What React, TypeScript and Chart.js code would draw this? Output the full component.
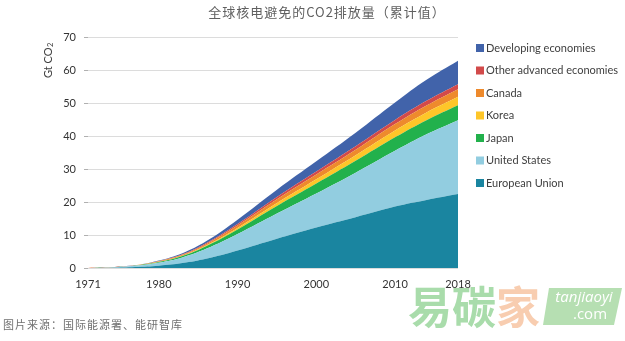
import React, { useEffect, useRef } from "react";
import { Chart, registerables } from "chart.js";

Chart.register(...registerables);

// ---- data ----
const years = [1971, 1974, 1977, 1980, 1983, 1986, 1990, 1995, 2000, 2005, 2010, 2014, 2018];
const euValues = [0, 0.05, 0.3, 0.7, 1.5, 2.8, 5.3, 8.9, 12.3, 15.4, 18.6, 20.6, 22.4];
const usValues = [0, 0.1, 0.35, 0.9, 1.7, 3.0, 5.0, 7.6, 10.3, 13.5, 16.9, 19.9, 22.4];
const japanValues = [0, 0.03, 0.1, 0.25, 0.45, 0.8, 1.4, 2.3, 3.0, 3.6, 4.1, 4.3, 4.5];
const koreaValues = [0, 0, 0, 0.02, 0.08, 0.2, 0.45, 0.9, 1.3, 1.7, 2.1, 2.35, 2.6];
const canadaValues = [0, 0.02, 0.05, 0.15, 0.25, 0.4, 0.7, 1.1, 1.4, 1.6, 1.9, 2.1, 2.3];
const otherValues = [0, 0.02, 0.04, 0.1, 0.17, 0.28, 0.5, 0.75, 0.95, 1.1, 1.25, 1.4, 1.5];
const developingValues = [0, 0.03, 0.06, 0.18, 0.35, 0.6, 1.3, 2.2, 3.1, 4.1, 5.3, 6.4, 7.1];

const seriesNames = [
  "European Union",
  "United States",
  "Japan",
  "Korea",
  "Canada",
  "Other advanced economies",
  "Developing economies",
];
const seriesValues = [euValues, usValues, japanValues, koreaValues, canadaValues, otherValues, developingValues];
const seriesColors = ["#1a85a0", "#92cde0", "#22b14c", "#fec629", "#ee8a2c", "#d24a4a", "#4163aa"];

const xTickYears = [1971, 1980, 1990, 2000, 2010, 2018];
const yMax = 70;
const yStep = 10;

const titleText = "全球核电避免的CO2排放量（累计值）";
const sourceText = "图片来源：国际能源署、能研智库";
const yAxisTitle = "Gt CO";
const yAxisSub = "2";

const decorPlugin = {
  id: "decor",
  beforeDraw(chart: any) {
    const ctx = chart.ctx as CanvasRenderingContext2D;
    ctx.save();
    ctx.fillStyle = "#ffffff";
    ctx.fillRect(0, 0, chart.width, chart.height);
    // watermark
    ctx.font = "bold 44px 'Noto Sans CJK SC'";
    ctx.textBaseline = "middle";
    ctx.textAlign = "left";
    ctx.fillStyle = "#a9dcab";
    ctx.fillText("易", 408, 307);
    ctx.fillText("碳", 452, 307);
    ctx.fillStyle = "#f8cdb0";
    ctx.fillText("家", 496, 307);
    ctx.fillStyle = "#b6dfb2";
    ctx.beginPath();
    ctx.moveTo(549, 288);
    ctx.lineTo(622, 288);
    ctx.lineTo(614, 325);
    ctx.lineTo(543, 325);
    ctx.closePath();
    ctx.fill();
    ctx.fillStyle = "#ffffff";
    ctx.font = "italic 15px 'Open Sans'";
    ctx.textAlign = "center";
    ctx.fillText("tanjiaoyi", 584, 298);
    ctx.font = "15px 'Open Sans'";
    ctx.fillText(".com", 590, 315);
    ctx.restore();
  },
  afterDraw(chart: any) {
    const ctx = chart.ctx as CanvasRenderingContext2D;
    ctx.save();
    // title
    (ctx as any).letterSpacing = "1px";
    ctx.font = "13px 'Noto Sans CJK SC'";
    ctx.fillStyle = "#606060";
    ctx.textAlign = "center";
    ctx.textBaseline = "middle";
    ctx.fillText(titleText, 327, 12);
    // source
    ctx.font = "11px 'Noto Sans CJK SC'";
    ctx.textAlign = "left";
    ctx.fillStyle = "#707070";
    ctx.fillText(sourceText, 3, 325);
    (ctx as any).letterSpacing = "0px";
    // y axis title
    ctx.save();
    ctx.translate(48, 78);
    ctx.rotate(-Math.PI / 2);
    ctx.font = "11px Lato";
    ctx.fillStyle = "#404040";
    ctx.textAlign = "left";
    ctx.textBaseline = "middle";
    ctx.fillText(yAxisTitle, 0, 0);
    const w = ctx.measureText(yAxisTitle).width;
    ctx.font = "7.5px Lato";
    ctx.fillText(yAxisSub, w + 0.5, 3);
    ctx.restore();
    // legend (top entry = last dataset)
    ctx.font = "11px Lato";
    ctx.textBaseline = "middle";
    ctx.textAlign = "left";
    const n = seriesNames.length;
    for (let i = 0; i < n; i++) {
      const idx = n - 1 - i;
      const cy = 48 + i * 22.5;
      ctx.fillStyle = seriesColors[idx];
      ctx.fillRect(476, cy - 4, 8, 8);
      ctx.fillStyle = "#404040";
      ctx.fillText(seriesNames[idx], 486, cy);
    }
    ctx.restore();
  },
};

export default function App() {
  const canvasRef = useRef<HTMLCanvasElement | null>(null);

  useEffect(() => {
    if (!canvasRef.current) return;
    const datasets = seriesNames.map((name, i) => ({
      label: name,
      data: years.map((yr, j) => ({ x: yr, y: seriesValues[i][j] })),
      backgroundColor: seriesColors[i],
      borderColor: seriesColors[i],
      borderWidth: 0,
      pointRadius: 0,
      fill: i === 0 ? "origin" : "-1",
      tension: 0.4,
    }));
    const chart = new Chart(canvasRef.current, {
      type: "line",
      data: { datasets },
      plugins: [decorPlugin],
      options: {
        responsive: false,
        animation: false,
        layout: { padding: { top: 37, right: 167, bottom: 0, left: 0 } },
        plugins: {
          legend: { display: false },
          tooltip: { enabled: false },
          title: { display: false },
        },
        scales: {
          x: {
            type: "linear",
            min: 1971,
            max: 2018,
            afterFit: (s: any) => {
              s.height = 73;
            },
            afterBuildTicks: (s: any) => {
              s.ticks = xTickYears.map((v) => ({ value: v }));
            },
            grid: { display: false },
            border: { display: false },
            ticks: {
              autoSkip: false,
              maxRotation: 0,
              padding: 2,
              color: "#333333",
              font: { family: "Lato", size: 11 },
              callback: (v: any) => String(v),
            },
          },
          y: {
            stacked: true,
            min: 0,
            max: yMax,
            afterFit: (s: any) => {
              s.width = 88;
            },
            grid: {
              color: "#dcdcdc",
              tickColor: "#b0b0b0",
              tickLength: 4,
              lineWidth: 1,
            },
            border: { display: false },
            ticks: {
              stepSize: yStep,
              padding: 8,
              color: "#333333",
              font: { family: "Lato", size: 11 },
            },
          },
        },
      },
    });
    return () => chart.destroy();
  }, []);

  return (
    <div style={{ position: "absolute", left: 0, top: 0, width: 625, height: 341, background: "#fff" }}>
      <canvas ref={canvasRef} width={625} height={341} style={{ display: "block", width: 625, height: 341 }} />
    </div>
  );
}
